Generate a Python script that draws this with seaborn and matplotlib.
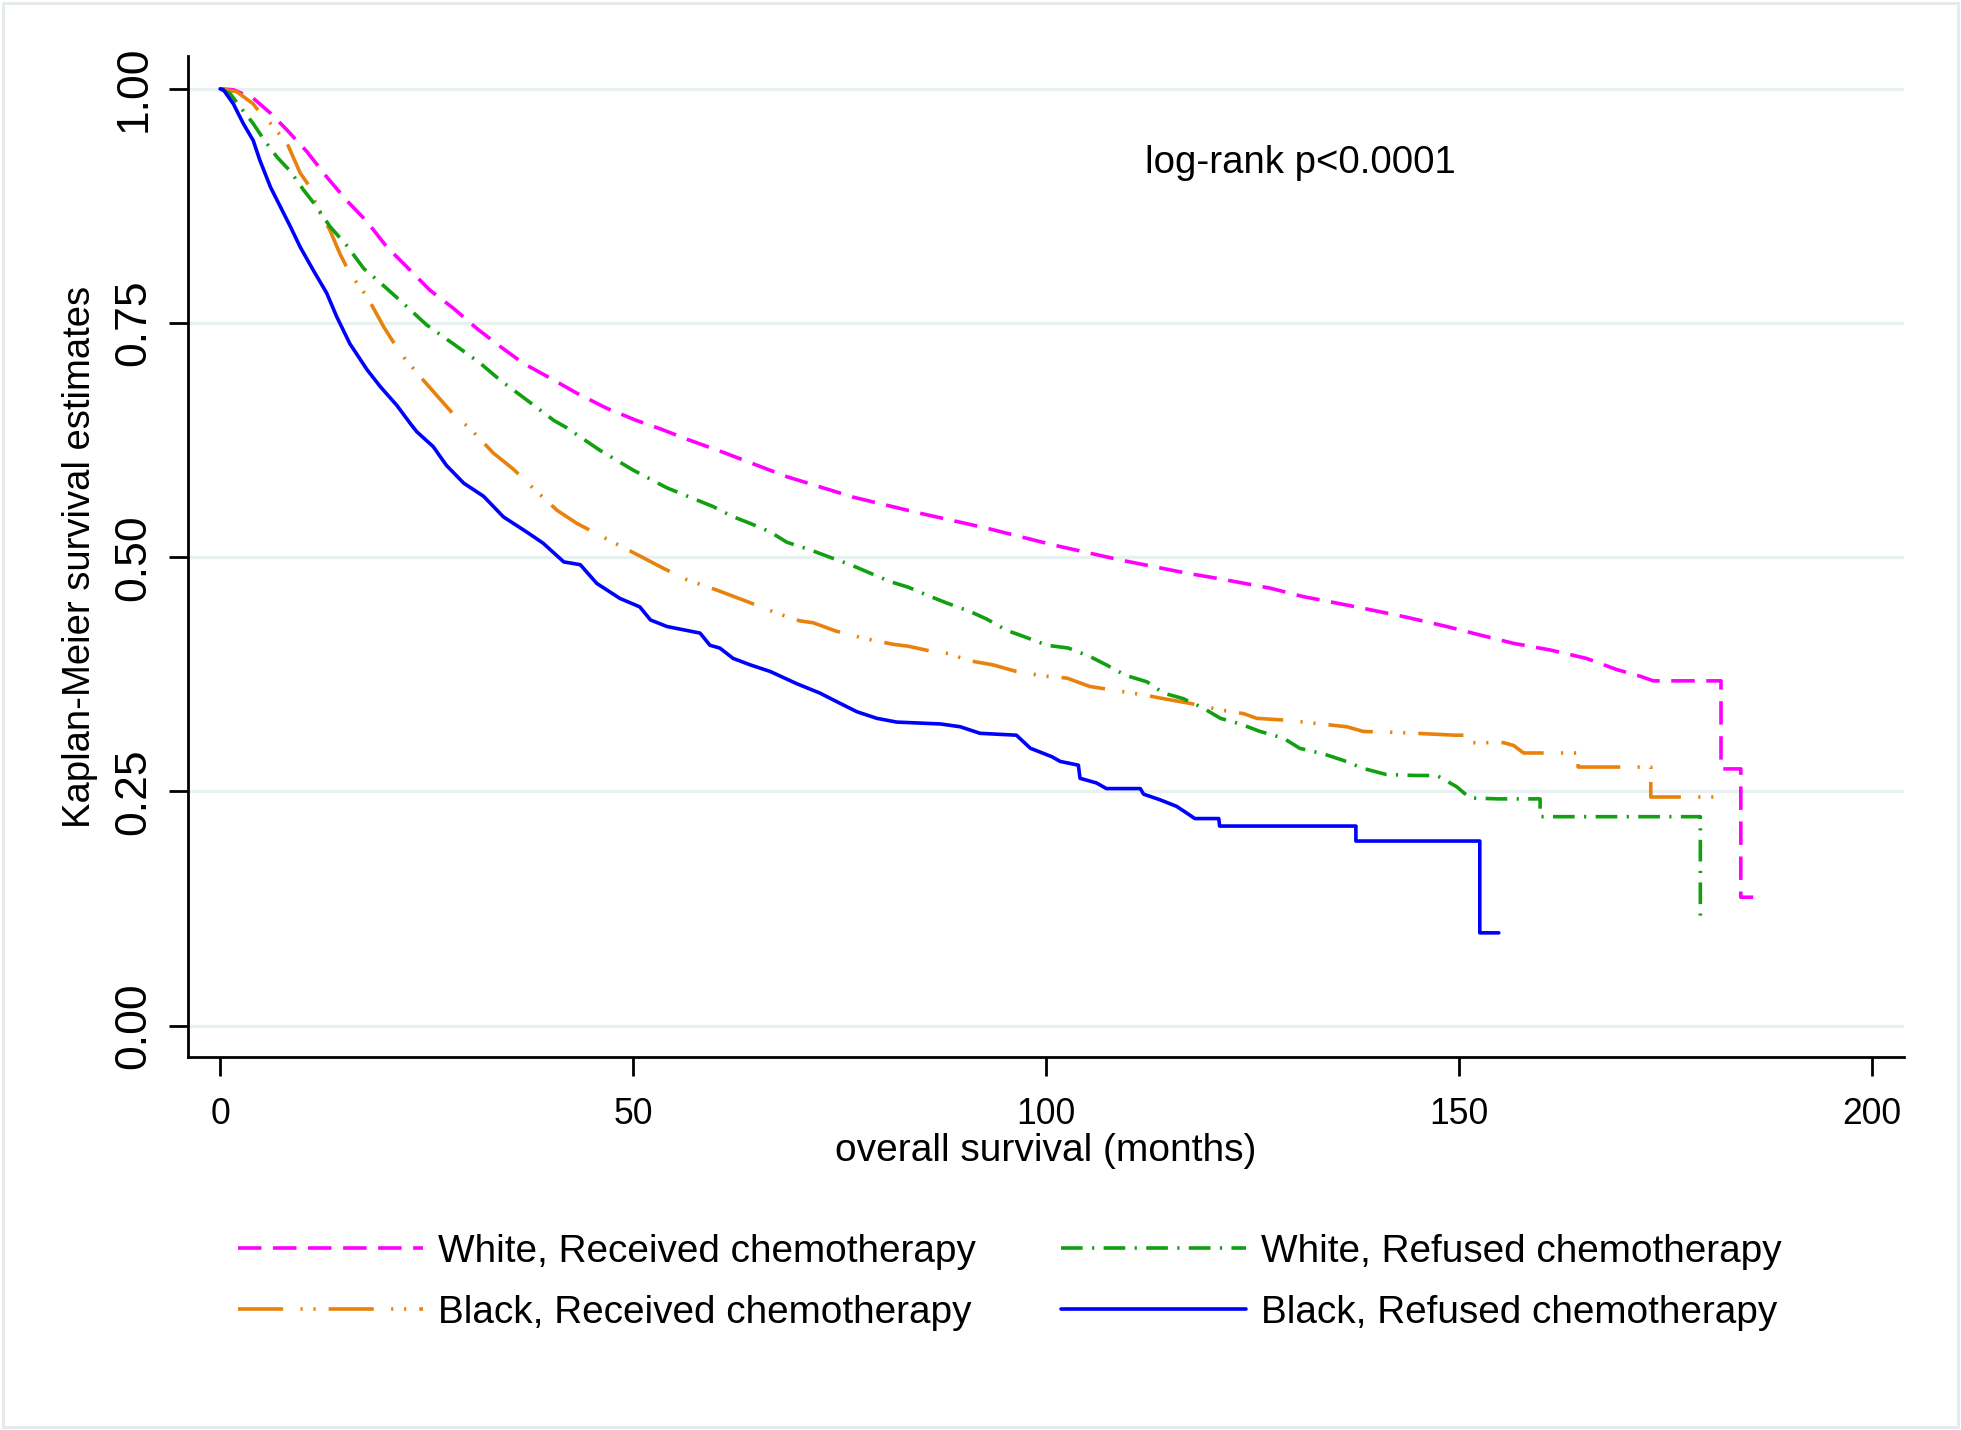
import matplotlib
matplotlib.use("Agg")
import matplotlib.pyplot as plt
from matplotlib.patches import Rectangle
import seaborn as sns
import pandas as pd

# Kaplan-Meier curves (months, survival estimate)
wr_time = [0, 1.6, 3.2, 4.0, 6.1, 8.1, 10.5, 12.9, 15.3, 17.8, 20.2, 22.6, 25.4, 28.2, 31.1,
           33.9, 36.7, 40.0, 43.2, 46.8, 50.4, 53.3, 56.5, 60.9, 68.6, 76.7, 84.7, 92.8, 100.9,
           109, 117, 121, 127.1, 131.1, 135.2, 139.2, 143.6, 148.5, 152.5, 156.6, 161.0, 165.4,
           169.1, 171.9, 173.5, 181.7, 181.7, 184.1, 184.1, 185.6]
wr_surv = [1.0, 0.999, 0.993, 0.990, 0.974, 0.956, 0.933, 0.906, 0.881, 0.858, 0.831, 0.810,
           0.785, 0.766, 0.744, 0.725, 0.707, 0.691, 0.675, 0.659, 0.646, 0.637, 0.626, 0.612,
           0.586, 0.564, 0.547, 0.531, 0.513, 0.497, 0.483, 0.477, 0.467, 0.458, 0.451, 0.444,
           0.436, 0.426, 0.417, 0.408, 0.401, 0.392, 0.380, 0.373, 0.368, 0.368, 0.274, 0.274,
           0.137, 0.137]

br_time = [0, 2.0, 4.0, 5.2, 6.1, 8.1, 9.7, 10.9, 11.7, 13.3, 14.5, 15.7, 17.8, 19.8, 21.8,
           24.2, 26.2, 28.2, 30.3, 33.1, 35.5, 37.5, 40.8, 43.2, 45.6, 50.0, 53.7, 56.5, 60.1,
           64.0, 65.4, 67.8, 70.2, 71.8, 74.6, 76.3, 78.7, 81.5, 83.3, 86.4, 88.4, 90.4, 93.6,
           96.4, 99.9, 102.5, 105.3, 111.8, 114.2, 117.4, 121.1, 123.9, 125.5, 129.1, 136.4,
           138.4, 142.4, 149.5, 151.5, 151.5, 155.4, 156.6, 157.8, 164.4, 164.4, 173.2, 173.2,
           181.2]
br_surv = [1.0, 0.997, 0.984, 0.970, 0.963, 0.942, 0.910, 0.895, 0.874, 0.849, 0.824, 0.803,
           0.778, 0.746, 0.718, 0.693, 0.673, 0.653, 0.637, 0.611, 0.594, 0.577, 0.550, 0.536,
           0.525, 0.505, 0.488, 0.476, 0.465, 0.452, 0.447, 0.439, 0.432, 0.430, 0.421, 0.417,
           0.412, 0.407, 0.405, 0.399, 0.397, 0.390, 0.385, 0.378, 0.373, 0.371, 0.362, 0.353,
           0.349, 0.344, 0.337, 0.333, 0.328, 0.326, 0.319, 0.314, 0.313, 0.310, 0.310, 0.302,
           0.302, 0.299, 0.291, 0.291, 0.276, 0.276, 0.244, 0.244]

wf_time = [0, 1.2, 2.4, 4.0, 5.2, 6.9, 8.5, 10.1, 11.7, 13.3, 15.3, 17.4, 19.0, 21.8, 25.0,
           28.2, 31.5, 33.9, 37.1, 40.4, 42.0, 46.0, 50.0, 54.1, 59.7, 61.9, 64.2, 66.6, 68.6,
           71.4, 73.8, 76.3, 78.7, 81.1, 83.3, 86.0, 88.0, 90.8, 92.8, 95.2, 97.4, 100.1, 102.7,
           105.3, 107.3, 109.6, 112.2, 114.2, 116.6, 119.0, 121.1, 123.5, 125.9, 128.7, 130.7,
           133.6, 136.0, 138.4, 141.2, 144.7, 147.3, 149.7, 151.3, 154.8, 157.6, 159.8, 159.8,
           179.2, 179.2, 179.4]
wf_surv = [1.0, 0.995, 0.981, 0.963, 0.947, 0.927, 0.912, 0.892, 0.874, 0.853, 0.833, 0.808,
           0.796, 0.774, 0.748, 0.728, 0.707, 0.689, 0.668, 0.646, 0.638, 0.614, 0.593, 0.574,
           0.554, 0.544, 0.536, 0.527, 0.516, 0.508, 0.500, 0.492, 0.483, 0.474, 0.468, 0.458,
           0.451, 0.442, 0.434, 0.422, 0.415, 0.406, 0.403, 0.394, 0.385, 0.374, 0.367, 0.355,
           0.349, 0.339, 0.328, 0.322, 0.314, 0.307, 0.296, 0.290, 0.283, 0.2745, 0.268, 0.267,
           0.267, 0.255, 0.243, 0.242, 0.242, 0.242, 0.223, 0.223, 0.116, 0.116]

bf_time = [0, 0.4, 1.6, 2.8, 4.0, 4.8, 6.1, 7.3, 8.5, 9.7, 11.3, 12.9, 14.1, 15.7, 17.8, 19.4,
           21.4, 23.0, 23.8, 25.8, 27.4, 29.5, 31.9, 34.3, 37.1, 39.1, 41.6, 43.6, 45.6, 48.4,
           50.8, 52.1, 54.1, 58.1, 59.3, 60.5, 62.1, 64.2, 66.6, 69.8, 72.6, 74.6, 77.1, 79.5,
           81.9, 87.2, 89.6, 92.0, 96.4, 98.1, 100.7, 101.7, 103.9, 104.1, 106.1, 107.3, 111.4,
           111.8, 113.8, 115.8, 117.0, 118.0, 120.9, 121.0, 137.5, 137.5, 152.5, 152.5, 154.8]
bf_surv = [1.0, 0.999, 0.984, 0.963, 0.945, 0.924, 0.895, 0.874, 0.853, 0.831, 0.806, 0.782,
           0.757, 0.728, 0.700, 0.682, 0.662, 0.643, 0.634, 0.618, 0.598, 0.579, 0.565, 0.543,
           0.527, 0.515, 0.495, 0.492, 0.472, 0.456, 0.447, 0.433, 0.426, 0.419, 0.406, 0.403,
           0.392, 0.385, 0.378, 0.365, 0.355, 0.346, 0.335, 0.328, 0.324, 0.322, 0.319, 0.312,
           0.310, 0.296, 0.287, 0.282, 0.278, 0.264, 0.259, 0.253, 0.253, 0.247, 0.241, 0.234,
           0.227, 0.221, 0.221, 0.213, 0.213, 0.197, 0.197, 0.099, 0.099]

group_labels = ["White, Received chemotherapy", "Black, Received chemotherapy",
                "White, Refused chemotherapy", "Black, Refused chemotherapy"]
x_ticks = [0, 50, 100, 150, 200]
y_ticks = [0.0, 0.25, 0.5, 0.75, 1.0]
y_tick_labels = ["0.00", "0.25", "0.50", "0.75", "1.00"]
annotation = "log-rank p<0.0001"

# styling
colors = ["#FF00FF", "#E8820C", "#10A010", "#0000FF"]
dash_styles = [(0, (6.5, 3.2)),
               (0, (12.5, 4.8, 0.6, 3.0, 0.6, 3.6)),
               (0, (6.0, 2.6, 0.6, 2.6)),
               "-"]

sns.set_style("white")
FONT = ["Liberation Sans", "Arial", "DejaVu Sans"]
plt.rcParams['font.family'] = FONT
plt.rcParams['axes.edgecolor'] = 'black'

fig = plt.figure(figsize=(19.61, 14.30), dpi=100)
ax = fig.add_axes([0.0957, 0.2608, 0.875, 0.700])

series = [(wr_time, wr_surv), (br_time, br_surv), (wf_time, wf_surv), (bf_time, bf_surv)]
for (t, s), lab, col, ls in zip(series, group_labels, colors, dash_styles):
    df = pd.DataFrame({"months": t, "survival": s})
    sns.lineplot(data=df, x="months", y="survival", ax=ax, color=col, linestyle=ls,
                 linewidth=2.6, sort=False, estimator=None, label=lab, legend=False)

ax.set_xlim(-3.93, 203.8)
ax.set_ylim(-0.0336, 1.035)
ax.set_xticks(x_ticks)
ax.set_yticks(y_ticks)
ax.set_yticklabels(y_tick_labels)

ax.yaxis.grid(True, color='#E9F0F2', linewidth=2.4)
ax.xaxis.grid(False)
ax.set_axisbelow(True)

for side in ['top', 'right']:
    ax.spines[side].set_visible(False)
for side in ['left', 'bottom']:
    ax.spines[side].set_linewidth(2)
    ax.spines[side].set_color('black')

ax.tick_params(axis='x', direction='out', length=13.5, width=2, pad=15,
               labelsize=25.6, bottom=True, colors='black')
ax.tick_params(axis='y', direction='out', length=13.5, width=2, pad=10.5,
               labelsize=32, left=True, colors='black')
for lbl in ax.get_yticklabels():
    lbl.set_rotation(90)
    lbl.set_verticalalignment('center')

ax.set_xlabel("overall survival (months)", fontsize=28, va='top', color='black')
ax.xaxis.set_label_coords(0.5, -0.0755)
ax.set_ylabel("Kaplan-Meier survival estimates", fontsize=27.5, color='black')
ax.yaxis.set_label_coords(-0.0522, 0.5)

ax.text(130.8, 0.921, annotation, ha='center', va='center', fontsize=27.6, color='black')

handles = ax.get_lines()[:4]
leg = fig.legend(handles, group_labels, loc='upper left', bbox_to_anchor=(0.1212, 0.1371),
                 ncol=2, frameon=False, fontsize=27.9, handlelength=4.77, handletextpad=0.4,
                 columnspacing=2.2, labelspacing=0.64, borderpad=0, borderaxespad=0)
for txt in leg.get_texts():
    txt.set_color('black')

# thin light frame around the whole graph
fig.patches.append(Rectangle((3 / 1961, 3 / 1430), 1 - 6 / 1961, 1 - 6 / 1430,
                             transform=fig.transFigure, fill=False,
                             edgecolor='#E4EAED', linewidth=2))

fig.savefig("out.png", dpi=100, facecolor='white')
